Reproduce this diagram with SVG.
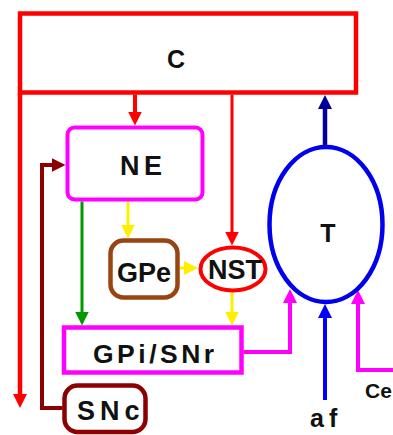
<svg xmlns="http://www.w3.org/2000/svg" width="393" height="435" viewBox="0 0 393 435">
<style>
  .lbl { font-family: "Liberation Sans", Arial, sans-serif; font-weight: bold; fill: #111; }
  .ln { fill: none; stroke-linejoin: miter; }
</style>
<defs>
  <marker id="ar-red" viewBox="0 0 14 14" refX="8" refY="7" markerWidth="14" markerHeight="14" markerUnits="userSpaceOnUse" orient="auto"><path d="M0,0 L14,7 L0,14 z" fill="#FF0000"/></marker>
  <marker id="ar-navy" viewBox="0 0 14 14" refX="8" refY="7" markerWidth="14" markerHeight="14" markerUnits="userSpaceOnUse" orient="auto"><path d="M0,0 L14,7 L0,14 z" fill="#000099"/></marker>
  <marker id="ar-blue" viewBox="0 0 14 14" refX="8" refY="7" markerWidth="14" markerHeight="14" markerUnits="userSpaceOnUse" orient="auto"><path d="M0,0 L14,7 L0,14 z" fill="#0000FF"/></marker>
  <marker id="ar-mag" viewBox="0 0 14 14" refX="8" refY="7" markerWidth="14" markerHeight="14" markerUnits="userSpaceOnUse" orient="auto"><path d="M0,0 L14,7 L0,14 z" fill="#FF00FF"/></marker>
  <marker id="ar-yel" viewBox="0 0 14 14" refX="8" refY="7" markerWidth="14" markerHeight="14" markerUnits="userSpaceOnUse" orient="auto"><path d="M0,0 L14,7 L0,14 z" fill="#FFEE00"/></marker>
  <marker id="ar-grn" viewBox="0 0 14 14" refX="8" refY="7" markerWidth="14" markerHeight="14" markerUnits="userSpaceOnUse" orient="auto"><path d="M0,0 L14,7 L0,14 z" fill="#009900"/></marker>
  <marker id="ar-mar" viewBox="0 0 14 14" refX="8" refY="7" markerWidth="14" markerHeight="14" markerUnits="userSpaceOnUse" orient="auto"><path d="M0,0 L14,7 L0,14 z" fill="#8B0000"/></marker>
</defs>
<rect width="393" height="435" fill="#FFFFFF"/>

<g id="connectors">
  <path class="ln" d="M135,94.5 V119.5" stroke="#FF0000" stroke-width="4" marker-end="url(#ar-red)"/>
  <path class="ln" d="M232,94.5 V239.5" stroke="#FF0000" stroke-width="3" marker-end="url(#ar-red)"/>
  <path class="ln" d="M20,92.5 V402" stroke="#FF0000" stroke-width="4.5" marker-end="url(#ar-red)"/>
  <path class="ln" d="M325,146 V101" stroke="#000099" stroke-width="4.5" marker-end="url(#ar-navy)"/>
  <path class="ln" d="M62.5,408 H42 V165 H59.5" stroke="#8B0000" stroke-width="4" marker-end="url(#ar-mar)"/>
  <path class="ln" d="M82,201.5 V319.5" stroke="#009900" stroke-width="3" marker-end="url(#ar-grn)"/>
  <path class="ln" d="M128,201.5 V232.5" stroke="#FFEE00" stroke-width="3" marker-end="url(#ar-yel)"/>
  <path class="ln" d="M180,268 H192" stroke="#FFEE00" stroke-width="3" marker-end="url(#ar-yel)"/>
  <path class="ln" d="M232,292.5 V319.5" stroke="#FFEE00" stroke-width="3" marker-end="url(#ar-yel)"/>
  <path class="ln" d="M243.5,352 H290 V295" stroke="#FF00FF" stroke-width="4" marker-end="url(#ar-mag)"/>
  <path class="ln" d="M393,370 H358 V296" stroke="#FF00FF" stroke-width="4" marker-end="url(#ar-mag)"/>
  <path class="ln" d="M325,400 V310" stroke="#0000FF" stroke-width="4" marker-end="url(#ar-blue)"/>
</g>

<g id="C">
  <rect x="20" y="13.5" width="336" height="79" fill="#FFFFFF" stroke="#FF0000" stroke-width="4.5"/>
  <text class="lbl" x="176" y="68" font-size="25" text-anchor="middle">C</text>
</g>

<g id="NE">
  <rect x="67.5" y="127.5" width="135" height="72" rx="7" fill="#FFFFFF" stroke="#FF00FF" stroke-width="4"/>
  <text class="lbl" x="120" y="175" font-size="27" letter-spacing="4.5">NE</text>
</g>

<g id="GPe">
  <rect x="110.5" y="240.5" width="67" height="57" rx="13" fill="#FFFFFF" stroke="#994411" stroke-width="4.5"/>
  <text class="lbl" x="144" y="282" font-size="27" text-anchor="middle">GPe</text>
</g>

<g id="NST">
  <ellipse cx="233" cy="269" rx="32.5" ry="21.5" fill="#FFFFFF" stroke="#FF0000" stroke-width="4"/>
  <text class="lbl" x="235" y="278.5" font-size="27" text-anchor="middle">NST</text>
</g>

<g id="T">
  <ellipse cx="326" cy="224.5" rx="56.5" ry="77.5" fill="#FFFFFF" stroke="#0000EE" stroke-width="4.5"/>
  <text class="lbl" x="328" y="242" font-size="25" text-anchor="middle">T</text>
</g>

<g id="GPiSNr">
  <rect x="64" y="327.5" width="177.5" height="45" fill="#FFFFFF" stroke="#FF00FF" stroke-width="4.5"/>
  <text class="lbl" x="93" y="363" font-size="26.5" letter-spacing="3.5">GPi/SNr</text>
</g>

<g id="SNc">
  <rect x="64.5" y="385.5" width="81" height="46.5" rx="13" fill="#FFFFFF" stroke="#8B0000" stroke-width="4.5"/>
  <text class="lbl" x="77" y="420" font-size="27" letter-spacing="5">SNc</text>
</g>

<g id="af">
  <text class="lbl" x="310" y="427" font-size="25" letter-spacing="5">af</text>
</g>

<g id="Ce">
  <text class="lbl" x="365" y="398" font-size="21">Ce</text>
</g>
</svg>
